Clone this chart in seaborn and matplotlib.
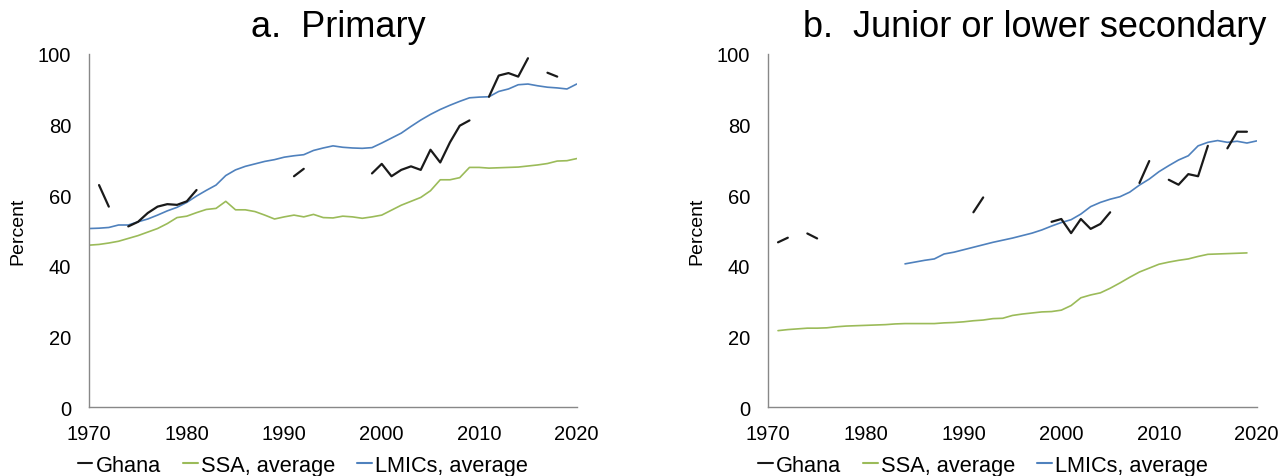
import numpy as np
import pandas as pd
import matplotlib
matplotlib.use("Agg")
import matplotlib.pyplot as plt
import seaborn as sns
from matplotlib.lines import Line2D

nan = np.nan
years = list(range(1970, 2021))

ghana_primary = [nan, 62.9, 56.8, nan, 51.2, 52.5, 55.0, 56.8, 57.5, 57.3,
                 58.3, 61.5, nan, nan, nan, nan, nan, nan, nan, nan,
                 nan, 65.4, 67.5, nan, nan, nan, nan, nan, nan, 66.2,
                 68.9, 65.4, 67.2, 68.2, 67.2, 72.9, 69.3, 75.0, 79.7, 81.2,
                 nan, 87.9, 93.9, 94.6, 93.6, 98.8, nan, 94.7, 93.6, nan, nan]
ssa_primary = [45.9, 46.1, 46.5, 47.0, 47.8, 48.6, 49.6, 50.6, 52.0, 53.7,
               54.1, 55.1, 56.0, 56.3, 58.3, 55.9, 55.9, 55.4, 54.4, 53.3,
               53.9, 54.4, 53.9, 54.6, 53.7, 53.6, 54.1, 53.9, 53.5, 53.9,
               54.4, 55.8, 57.2, 58.3, 59.4, 61.3, 64.4, 64.4, 65.0, 67.9,
               67.9, 67.7, 67.8, 67.9, 68.0, 68.3, 68.6, 69.0, 69.7, 69.8, 70.4]
lmic_primary = [50.6, 50.7, 50.9, 51.6, 51.6, 52.5, 53.3, 54.4, 55.6, 56.6,
                58.0, 59.8, 61.4, 62.9, 65.6, 67.2, 68.2, 68.9, 69.6, 70.1,
                70.8, 71.2, 71.5, 72.7, 73.4, 74.0, 73.6, 73.4, 73.3, 73.5,
                74.8, 76.2, 77.6, 79.5, 81.3, 82.9, 84.3, 85.5, 86.6, 87.6,
                87.8, 87.9, 89.4, 90.1, 91.3, 91.5, 91.0, 90.6, 90.4, 90.1, 91.5]

ghana_junior = [nan, 46.7, 48.0, nan, 49.2, 47.8, nan, nan, nan, nan,
                nan, nan, nan, nan, nan, nan, nan, nan, nan, nan,
                nan, 55.2, 59.4, nan, nan, nan, nan, nan, nan, 52.5,
                53.3, 49.3, 53.3, 50.5, 51.9, 55.2, nan, nan, 63.5, 69.7,
                nan, 64.4, 63.0, 66.0, 65.4, 74.0, nan, 73.3, 78.0, 78.0, nan]
ssa_junior = [nan, 21.7, 22.0, 22.2, 22.4, 22.4, 22.5, 22.8, 23.0, 23.1,
              23.2, 23.3, 23.4, 23.6, 23.7, 23.7, 23.7, 23.7, 23.9, 24.0,
              24.2, 24.5, 24.7, 25.1, 25.2, 26.0, 26.4, 26.7, 27.0, 27.1,
              27.5, 28.8, 31.0, 31.8, 32.4, 33.7, 35.2, 36.8, 38.3, 39.4,
              40.5, 41.1, 41.6, 42.0, 42.7, 43.3, 43.4, 43.5, 43.6, 43.7, nan]
lmic_junior = [nan, nan, nan, nan, nan, nan, nan, nan, nan, nan,
               nan, nan, nan, nan, 40.6, 41.1, 41.6, 42.0, 43.4, 43.9,
               44.6, 45.3, 46.0, 46.7, 47.3, 47.9, 48.6, 49.3, 50.2, 51.3,
               52.3, 53.1, 54.7, 56.8, 58.0, 58.9, 59.6, 60.9, 62.9, 64.6,
               66.7, 68.4, 70.0, 71.2, 74.0, 75.0, 75.5, 75.0, 75.3, 74.8, 75.4]

panel_titles = ["a.  Primary", "b.  Junior or lower secondary"]
series_names = ["Ghana", "SSA, average", "LMICs, average"]
x_ticks = [1970, 1980, 1990, 2000, 2010, 2020]
y_ticks = [0, 20, 40, 60, 80, 100]
y_label = "Percent"

colors = ["#1a1a1a", "#9BBB59", "#4F81BD"]
widths = [1.6, 1.2, 1.2]

sns.set_style("white")
plt.rcParams["font.family"] = ["Liberation Sans", "DejaVu Sans"]
plt.rcParams["text.color"] = "black"
plt.rcParams["axes.labelcolor"] = "black"

fig = plt.figure(figsize=(12.83, 4.77), dpi=100)
ax_l = fig.add_axes([0.0696, 0.144, 0.3799, 0.7407])
ax_r = fig.add_axes([0.5988, 0.144, 0.3807, 0.7407])


def segments(values):
    df = pd.DataFrame({"year": years, "value": values})
    valid = df["value"].notna()
    df["seg"] = (valid != valid.shift()).cumsum()
    return df[valid]


panels = [
    (ax_l, [ghana_primary, ssa_primary, lmic_primary]),
    (ax_r, [ghana_junior, ssa_junior, lmic_junior]),
]

spine_color = "#888888"
for ax, series in panels:
    # draw SSA and LMIC first, Ghana on top
    for idx in [1, 2, 0]:
        df = segments(series[idx])
        sns.lineplot(data=df, x="year", y="value", units="seg", estimator=None,
                     color=colors[idx], linewidth=widths[idx], ax=ax,
                     legend=False, zorder=3 if idx == 0 else 2)
    ax.set_xlim(1970, 2020)
    ax.set_ylim(0, 100)
    ax.set_xticks(x_ticks)
    ax.set_yticks(y_ticks)
    ax.set_xlabel("")
    ax.set_ylabel(y_label, fontsize=14, labelpad=8, color="black")
    for s in ["top", "right"]:
        ax.spines[s].set_visible(False)
    for s in ["left", "bottom"]:
        ax.spines[s].set_color(spine_color)
        ax.spines[s].set_linewidth(1.0)
    ax.tick_params(axis="both", direction="out", length=4, width=1,
                   color=spine_color, labelsize=14.5, labelcolor="black")
    ax.tick_params(axis="y", pad=9)
    ax.tick_params(axis="x", pad=8)
    ax.grid(False)

fig.text(0.2634, 0.9224, panel_titles[0], fontsize=26, ha="center",
         va="baseline", color="black")
fig.text(0.8067, 0.9224, panel_titles[1], fontsize=26, ha="center",
         va="baseline", color="black")

handles = [Line2D([], [], color=c, linewidth=1.5) for c in colors]
for ax, x0 in [(ax_l, 0.0605), (ax_r, 0.5908)]:
    leg = ax.legend(handles, series_names, loc="center left",
                    bbox_to_anchor=(x0, 0.022), bbox_transform=fig.transFigure,
                    ncol=3, frameon=False, borderpad=0, borderaxespad=0,
                    handlelength=0.68, handletextpad=0.15, columnspacing=1.0,
                    fontsize=15.7)
    for t in leg.get_texts():
        t.set_color("black")

fig.savefig("out.png", dpi=100, facecolor="white")
